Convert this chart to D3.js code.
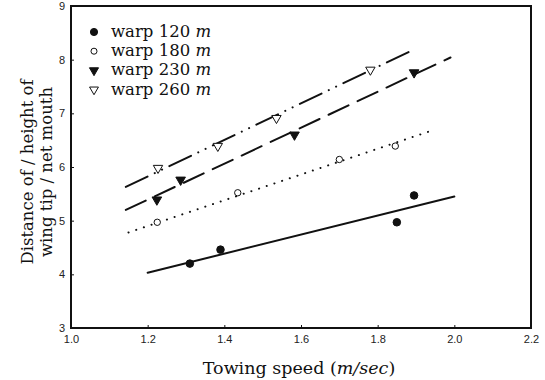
<!DOCTYPE html>
<html><head><meta charset="utf-8">
<script src="https://cdn.jsdelivr.net/npm/d3@7"></script>
<style>
body{margin:0;background:#fff;}
svg{display:block;}
.tick text{font-family:"Liberation Sans Narrow","Liberation Sans",sans-serif;font-size:11px;fill:#222;}
</style>
</head><body>
<svg id="c" width="545" height="380"></svg>
<script>
// Data
const seriesNames = ["warp 120", "warp 180", "warp 230", "warp 260"];
const speed120 = [1.31, 1.39, 1.85, 1.895];
const dist120  = [4.20, 4.46, 4.97, 5.47];
const speed180 = [1.225, 1.435, 1.70, 1.846];
const dist180  = [4.97, 5.52, 6.14, 6.39];
const speed230 = [1.224, 1.286, 1.583, 1.895];
const dist230  = [5.39, 5.76, 6.60, 7.76];
const speed260 = [1.227, 1.383, 1.536, 1.781];
const dist260  = [5.98, 6.39, 6.91, 7.81];
// fitted lines (endpoints)
const fitX120 = [1.20, 2.00], fitY120 = [4.03, 5.45];
const fitX180 = [1.15, 1.95], fitY180 = [4.78, 6.70];
const fitX230 = [1.143, 1.99], fitY230 = [5.20, 8.04];
const fitX260 = [1.143, 1.895], fitY260 = [5.63, 8.19];
const xTicks = [1.0, 1.2, 1.4, 1.6, 1.8, 2.0, 2.2];
const yTicks = [3, 4, 5, 6, 7, 8, 9];

const svg = d3.select("#c");
const L = 71, R = 531, T = 6, B = 328;
const x = d3.scaleLinear().domain([1.0, 2.2]).range([L, R]);
const y = d3.scaleLinear().domain([3, 9]).range([B, T]);
const SERIF = "'DejaVu Serif', serif";

// axes
const xa = svg.append("g").attr("transform", `translate(0,${B})`)
  .call(d3.axisBottom(x).tickValues(xTicks).tickFormat(d3.format(".1f")).tickSize(-3).tickPadding(7));
const ya = svg.append("g").attr("transform", `translate(${L},0)`)
  .call(d3.axisLeft(y).tickValues(yTicks).tickFormat(d3.format("d")).tickSize(-3).tickPadding(6));
[xa, ya].forEach(a => { a.select(".domain").remove(); a.selectAll(".tick line").attr("stroke", "#111").attr("stroke-width", 1); });

// frame
svg.append("rect").attr("x", L).attr("y", T).attr("width", R - L).attr("height", B - T)
  .attr("fill", "none").attr("stroke", "#111").attr("stroke-width", 2);

const line = d3.line().x(d => x(d[0])).y(d => y(d[1]));
const fits = [
  {xs: fitX120, ys: fitY120, dash: null},
  {xs: fitX180, ys: fitY180, dash: "0.1 8"},
  {xs: fitX230, ys: fitY230, dash: "22 10"},
  {xs: fitX260, ys: fitY260, dash: "24 8 0.1 8 0.1 8"}
];
fits.forEach(f => {
  const p = svg.append("path").datum(d3.zip(f.xs, f.ys)).attr("d", line)
    .attr("fill", "none").attr("stroke", "#111").attr("stroke-width", 2)
    .attr("stroke-linecap", "round");
  if (f.dash) p.attr("stroke-dasharray", f.dash);
});

const styles = [
  {type: "circle", fill: "#111", size: 45},
  {type: "circle", fill: "#fff", size: 32},
  {type: "tri", fill: "#111", size: 40},
  {type: "tri", fill: "#fff", size: 38}
];
function drawMarker(g, st, cx, cy, scale) {
  const s = st.size * (scale || 1);
  if (st.type === "circle") {
    g.append("path").attr("d", d3.symbol().type(d3.symbolCircle).size(s)())
      .attr("transform", `translate(${cx},${cy})`)
      .attr("fill", st.fill).attr("stroke", "#111").attr("stroke-width", 1);
  } else {
    g.append("path").attr("d", d3.symbol().type(d3.symbolTriangle).size(s)())
      .attr("transform", `translate(${cx},${cy}) rotate(180)`)
      .attr("fill", st.fill).attr("stroke", "#111").attr("stroke-width", 1);
  }
}
const pts = [[speed120, dist120], [speed180, dist180], [speed230, dist230], [speed260, dist260]];
pts.forEach((p, i) => {
  const g = svg.append("g");
  d3.zip(p[0], p[1]).forEach(d => drawMarker(g, styles[i], x(d[0]), y(d[1])));
});

// legend
const lg = svg.append("g");
seriesNames.forEach((n, i) => {
  const cy = 32 + i * 19.2;
  drawMarker(lg, styles[i], 94, cy, 0.9);
  const t = lg.append("text").attr("x", 111).attr("y", cy + 5)
    .attr("font-family", SERIF).attr("font-size", 16.5).attr("fill", "#111");
  t.append("tspan").text(n + " ");
  t.append("tspan").attr("font-style", "italic").text("m");
});

// axis titles
const xt = svg.append("text").attr("x", 299).attr("y", 374).attr("text-anchor", "middle")
  .attr("font-family", SERIF).attr("font-size", 17.5).attr("fill", "#111");
xt.append("tspan").text("Towing speed (");
xt.append("tspan").attr("font-style", "italic").text("m/sec");
xt.append("tspan").text(")");

const yt = svg.append("text").attr("transform", "translate(0,172) rotate(-90)")
  .attr("text-anchor", "middle").attr("font-family", SERIF)
  .attr("font-size", 16.5).attr("fill", "#111");
yt.append("tspan").attr("x", 0).attr("y", 33).text("Distance of / height of");
yt.append("tspan").attr("x", 0).attr("y", 52).text("wing tip / net mouth");
</script>
</body></html>
